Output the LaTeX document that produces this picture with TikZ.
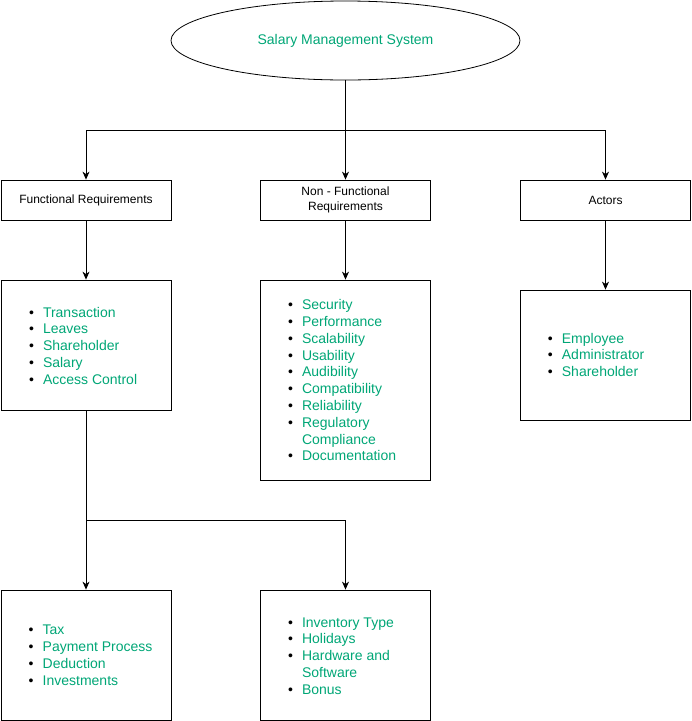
\documentclass[tikz,border=0pt]{standalone}
\usepackage{fontspec}
\setmainfont{Liberation Sans}
\usetikzlibrary{shapes.geometric,arrows.meta}
\definecolor{txtgreen}{RGB}{0,166,118}
\newcommand\li[1]{\makebox[14pt][l]{\textcolor{black}{\textbullet}} & #1}
\newenvironment{blist}{\begin{tabular}{@{}l@{}l@{}}}{\end{tabular}}
\begin{document}
\begin{tikzpicture}[x=1pt,y=-1pt, line width=0.8pt,
 boxnode/.style={draw, rectangle, minimum width=170pt, minimum height=40pt, inner sep=0pt, align=center, font=\fontsize{12}{15}\selectfont},
 listbox/.style={draw, rectangle, minimum width=170pt, inner sep=0pt},
 listtext/.style={anchor=west, inner sep=0pt, font=\fontsize{14}{16.8}\selectfont, text=txtgreen},
 conn/.style={-{Stealth[length=8pt,width=7pt,inset=2.5pt]}}
]
\useasboundingbox (0,0) rectangle (692,721);
\node[draw, ellipse, minimum width=349pt, minimum height=79pt, inner sep=0pt,
      font=\fontsize{14}{16}\selectfont, text=txtgreen] (sms) at (345.5,40.5) {Salary Management System};
\node[boxnode] (fr) at (86,200) {Functional Requirements};
\node[boxnode] (nfr) at (345.5,200) {Non - Functional\\Requirements};
\node[boxnode] (act) at (605.5,200) {Actors};
\node[listbox, minimum height=130pt] (frl) at (86,345) {};
\node[listbox, minimum height=200pt] (nfrl) at (345.5,380) {};
\node[listbox, minimum height=130pt] (actl) at (605.5,355) {};
\node[listbox, minimum height=130pt] (bl) at (86,655) {};
\node[listbox, minimum height=130pt] (br) at (345.5,655) {};
\node[listtext] (frt) at (28.6,347.4) {\begin{blist}
\li{Transaction}\\ \li{Leaves}\\ \li{Shareholder}\\ \li{Salary}\\ \li{Access Control}
\end{blist}};
\node[listtext] (nfrt) at (287.6,382) {\begin{blist}
\li{Security}\\ \li{Performance}\\ \li{Scalability}\\ \li{Usability}\\ \li{Audibility}\\
\li{Compatibility}\\ \li{Reliability}\\ \li{Regulatory}\\ & Compliance\\ \li{Documentation}
\end{blist}};
\node[listtext] (actt) at (547.5,356.6) {\begin{blist}
\li{Employee}\\ \li{Administrator}\\ \li{Shareholder}
\end{blist}};
\node[listtext] (blt) at (28.3,656.8) {\begin{blist}
\li{Tax}\\ \li{Payment Process}\\ \li{Deduction}\\ \li{Investments}
\end{blist}};
\node[listtext] (brt) at (287.6,657.4) {\begin{blist}
\li{Inventory Type}\\ \li{Holidays}\\ \li{Hardware and}\\ & Software\\ \li{Bonus}
\end{blist}};
\coordinate (j1) at (345.5,130);
\coordinate (j2) at (86,520);
\draw[conn] (sms.south) -- (j1) -| (fr.north);
\draw[conn] (sms.south) -- (nfr.north);
\draw[conn] (j1) -| (act.north);
\draw[conn] (fr.south) -- (frl.north);
\draw[conn] (nfr.south) -- (nfrl.north);
\draw[conn] (act.south) -- (actl.north);
\draw[conn] (frl.south) -- (bl.north);
\draw[conn] (frl.south) -- (j2) -| (br.north);
\end{tikzpicture}
\end{document}
